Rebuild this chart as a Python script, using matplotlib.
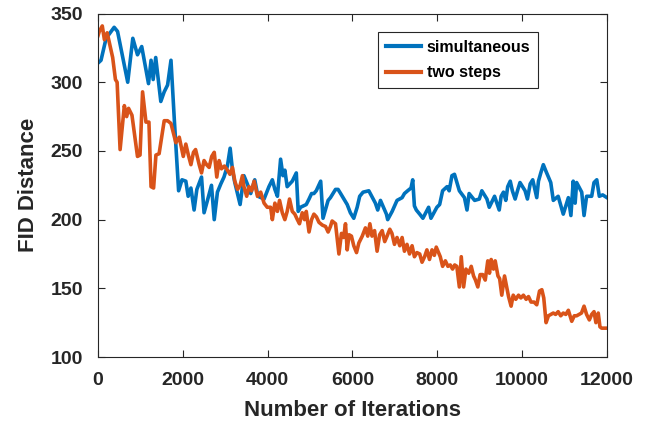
import matplotlib.pyplot as plt

# simultaneous training (blue)
iters_sim = [0, 70, 190, 380, 460, 700, 820, 930, 1030, 1190, 1250, 1300, 1360, 1480, 1560, 1640, 1720, 1800,
             1900, 1980, 2070, 2125, 2190, 2265, 2330, 2440, 2500, 2580, 2675, 2740, 2815, 2895, 2970, 3050,
             3115, 3170, 3225, 3350, 3440, 3520, 3600, 3695, 3770, 3915, 4030, 4110, 4170, 4230, 4305, 4360,
             4405, 4460, 4580, 4675, 4720, 4775, 4910, 4975, 5035, 5090, 5145, 5250, 5305, 5425, 5480, 5600,
             5660, 5720, 5875, 5950, 6030, 6110, 6170, 6250, 6385, 6540, 6595, 6660, 6800, 6830, 6935, 7050,
             7170, 7225, 7300, 7380, 7420, 7460, 7505, 7585, 7660, 7795, 7850, 7990, 8055, 8125, 8230, 8280,
             8345, 8405, 8520, 8640, 8700, 8750, 8880, 8990, 9050, 9170, 9225, 9350, 9460, 9505, 9560, 9615,
             9660, 9720, 9770, 9835, 9900, 9950, 10070, 10125, 10190, 10250, 10345, 10385, 10440, 10500, 10565,
             10675, 10735, 10850, 10970, 11090, 11150, 11205, 11250, 11285, 11405, 11460, 11520, 11640, 11695,
             11760, 11820, 11900, 12000]
fid_sim = [314, 316, 332, 340, 337, 300, 332, 320, 326, 299, 316, 302, 318, 286, 293, 298, 316, 272,
           221, 229, 228, 217, 223, 207, 222, 231, 205, 214, 225, 200, 220, 226, 231, 239,
           252, 236, 227, 211, 232, 226, 219, 229, 217, 215, 224, 229, 222, 217, 244, 232,
           236, 224, 228, 234, 206, 209, 211, 215, 219, 219, 221, 228, 201, 214, 216, 222,
           222, 219, 211, 205, 201, 209, 217, 220, 221, 212, 207, 214, 204, 200, 206, 214,
           216, 219, 221, 223, 229, 210, 207, 204, 201, 209, 201, 209, 211, 221, 224, 221,
           232, 233, 221, 216, 207, 219, 214, 215, 221, 215, 209, 217, 207, 217, 220, 214,
           224, 228, 221, 215, 222, 227, 221, 215, 226, 229, 216, 228, 234, 240, 235,
           227, 214, 217, 204, 216, 203, 228, 212, 227, 220, 203, 217, 217, 227,
           229, 217, 218, 216]

# two-step training (orange)
iters_two = [0, 30, 100, 150, 215, 265, 345, 410, 450, 520, 620, 675, 720, 800, 930, 990, 1050, 1130, 1200,
             1250, 1310, 1365, 1440, 1560, 1640, 1720, 1835, 1915, 2010, 2070, 2130, 2190, 2250, 2300, 2385,
             2440, 2500, 2560, 2620, 2680, 2740, 2800, 2855, 2910, 2980, 3050, 3110, 3170, 3225, 3290, 3350,
             3405, 3440, 3505, 3560, 3620, 3680, 3760, 3835, 3915, 3990, 4070, 4110, 4170, 4230, 4280, 4345,
             4405, 4460, 4515, 4580, 4640, 4700, 4750, 4815, 4870, 4910, 4975, 5035, 5090, 5150, 5210, 5290,
             5365, 5425, 5480, 5520, 5600, 5680, 5740, 5790, 5835, 5875, 5920, 5975, 6030, 6095, 6150, 6230,
             6305, 6360, 6410, 6460, 6520, 6580, 6640, 6700, 6760, 6815, 6880, 6930, 6990, 7050, 7115, 7170,
             7225, 7285, 7345, 7405, 7460, 7520, 7585, 7640, 7700, 7755, 7815, 7875, 7930, 7975, 8030, 8070,
             8125, 8190, 8250, 8305, 8360, 8410, 8460, 8520, 8565, 8620, 8675, 8740, 8800, 8855, 8900, 8955,
             9010, 9070, 9130, 9190, 9230, 9270, 9325, 9365, 9430, 9470, 9520, 9585, 9630, 9680, 9740, 9790,
             9850, 9915, 9970, 10030, 10095, 10150, 10210, 10280, 10345, 10410, 10465, 10510, 10565, 10620,
             10680, 10735, 10790, 10850, 10910, 10970, 11030, 11090, 11170, 11230, 11285, 11340, 11400, 11460,
             11520, 11585, 11640, 11695, 11740, 11795, 11835, 11875, 12000]
fid_two = [334, 337, 341, 331, 336, 329, 318, 302, 300, 251, 283, 275, 281, 276, 246, 247, 293, 271, 271,
           224, 223, 247, 248, 272, 272, 270, 256, 260, 246, 255, 247, 240, 249, 251, 240,
           234, 243, 240, 238, 246, 249, 231, 243, 237, 239, 236, 233, 238, 228, 222, 225,
           232, 224, 217, 224, 221, 228, 217, 220, 212, 209, 209, 200, 212, 206, 214, 205,
           200, 206, 215, 206, 204, 200, 197, 205, 200, 206, 191, 200, 204, 202, 198, 196,
           195, 191, 195, 199, 197, 175, 190, 187, 197, 178, 189, 188, 181, 176, 183, 188,
           194, 188, 197, 188, 192, 177, 189, 192, 184, 188, 193, 190, 182, 187, 181, 187,
           177, 182, 175, 181, 173, 176, 175, 169, 173, 178, 171, 178, 174, 180, 176, 173,
           166, 170, 166, 167, 164, 167, 166, 151, 173, 151, 164, 161, 166, 159, 156, 151,
           160, 160, 156, 170, 161, 171, 164, 170, 159, 157, 145, 159, 152, 144, 137, 145,
           142, 145, 143, 145, 142, 144, 140, 140, 138, 148, 149, 143, 125, 130,
           131, 132, 131, 133, 130, 132, 131, 134, 126, 130, 130, 131, 132, 137,
           131, 127, 131, 133, 125, 132, 122, 121, 121]

plt.rcParams['font.family'] = ['Liberation Sans', 'DejaVu Sans']
plt.rcParams['font.weight'] = 'bold'

fig = plt.figure(figsize=(6.45, 4.24), dpi=100)
ax = fig.add_axes([0.152, 0.158, 0.789, 0.810])

ax.plot(iters_sim, fid_sim, color='#0072BD', lw=2.6, label='simultaneous')
ax.plot(iters_two, fid_two, color='#D95319', lw=2.6, label='two steps')

ax.set_xlim(0, 12000)
ax.set_ylim(100, 350)
ax.set_xticks(range(0, 12001, 2000))
ax.set_yticks(range(100, 351, 50))
ax.tick_params(direction='in', length=5, width=0.8, top=True, right=True,
               labelsize=14, colors='#262626', pad=11)
for lab in ax.get_xticklabels() + ax.get_yticklabels():
    lab.set_fontweight('bold')
for sp in ax.spines.values():
    sp.set_color('#262626')
    sp.set_linewidth(0.8)

ax.set_xlabel('Number of Iterations', fontsize=16, fontweight='bold', color='#262626', labelpad=8)
ax.set_ylabel('FID Distance', fontsize=16, fontweight='bold', color='#262626', labelpad=8)

leg = ax.legend(loc='upper right', bbox_to_anchor=(0.865, 0.947), borderaxespad=0,
                fancybox=False, edgecolor='#262626', framealpha=1,
                prop={'size': 11.5, 'weight': 'bold'}, handlelength=2.2, handletextpad=0.35,
                borderpad=0.5, labelspacing=0.65)
leg.get_frame().set_linewidth(0.8)
for ln in leg.get_lines():
    ln.set_linewidth(3)

fig.savefig('out.png', dpi=100)
